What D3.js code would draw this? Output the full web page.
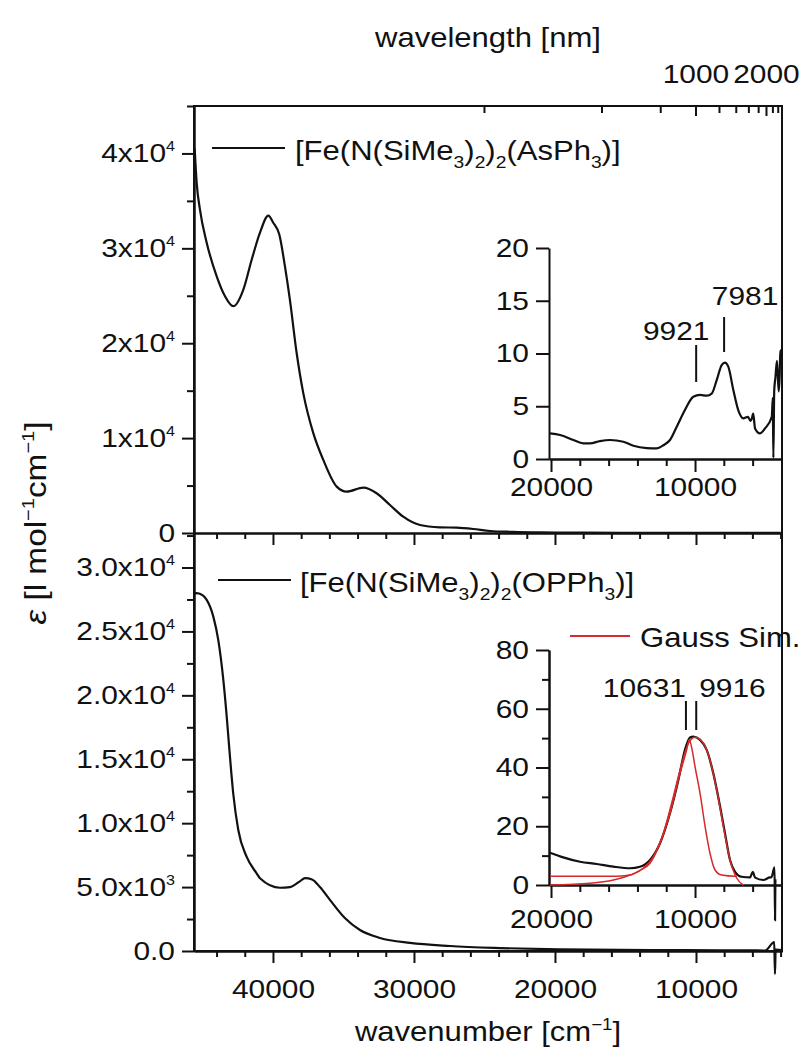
<!DOCTYPE html>
<html><head><meta charset="utf-8">
<script src="https://cdn.jsdelivr.net/npm/d3@7"></script>
<style>
body{margin:0;background:#fff}
svg{display:block}
text{font-family:"Liberation Sans",Arial,Helvetica,sans-serif;fill:#111}
</style>
</head><body>
<svg id="c" width="805" height="1057"></svg>
<script>
// ---------------- data ----------------
// main top panel: [Fe(N(SiMe3)2)2(AsPh3)]
const asWn  = [45550,45410,45180,44700,43990,43400,42815,42100,41510,40920,40330,39980,39550,39150,38800,38320,37850,37140,36430,35480,34770,33590,32650,31700,30760,29570,28160,26970,25800,24600,23000,21000,18000,14000,10000,8000,6000,4000];
const asEps = [40500,36900,34100,30600,27050,24950,23900,25650,28800,31650,33450,32700,31450,28100,24600,18970,14740,10520,7700,4890,4360,4780,4190,2950,1720,840,600,560,420,210,120,60,30,15,10,12,6,10];
// main bottom panel: [Fe(N(SiMe3)2)2(OPPh3)]
const opWn  = [45600,45410,44950,44700,44230,43880,43520,43280,43050,42820,42460,41870,41160,40920,39500,38800,38090,37730,37230,36670,35960,34900,33830,32410,30280,27450,23900,19650,13270,8300,5100,4450,4400,4350,3900];
const opEps = [27900,28000,27800,27470,26160,24340,21210,18340,15200,12340,9470,7380,6080,5690,4950,5000,5450,5700,5600,5000,4000,2580,1640,1020,630,390,230,120,70,60,40,700,-1800,100,80];
// inset 1 (NIR, AsPh3)
const nirAsWn  = [20070,19375,18450,17760,17300,16600,15900,14980,14280,13350,12660,12200,11740,11270,10700,10120,9650,9190,8840,8490,8150,7920,7690,7340,7000,6650,6320,6150,6060,5960,5830,5490,5140,4670,4600,4560,4500,4420,4310,4190,4120,4080,4030];
const nirAsEps = [2.43,2.27,1.80,1.48,1.48,1.70,1.80,1.64,1.26,1.04,1.01,1.30,1.80,3.06,4.64,5.9,6.07,6.0,6.2,7.5,8.9,9.13,8.75,6.54,4.64,3.86,4.0,3.6,3.8,4.3,2.9,2.43,2.9,4.0,5.8,0.1,6.5,7.7,9.3,6.4,8.0,10.3,10.0];
const nirAsPeaks = [9921, 7981];
// inset 2 (NIR, OPPh3) measured + Gauss simulation
const nirOpWn  = [20070,19150,17990,16830,15670,14510,13820,13125,12430,11740,11160,10700,10350,10120,9650,9190,8730,8260,7920,7570,7220,6760,6180,5990,5830,5260,4790,4700,4480,4444,4420];
const nirOpEps = [11.0,9.4,7.9,7.15,6.24,5.7,6.2,8.5,14.2,24.4,35.7,46,50.2,50.5,49.4,46,38,26.7,17.6,8.5,4.5,2.8,2.6,4.5,2.5,1.7,2.6,2.6,6.0,-12,2];
const simAWn  = [20070,15400,14400,13820,13125,12430,11740,11040,10580,10400,10200,10000,9650,9300,8960,8610,8150,7240,7100];
const simAEps = [3,3,3.5,5.0,7.4,14.2,24.4,38,46,49.5,46,40.3,31.2,19.9,10.8,5.1,3.4,3.0,3.0];
const simBWn  = [20070,17290,15670,14510,13590,12900,12200,11510,10920,10460,10000,9420,8960,8490,8030,7570,7100,6650];
const simBEps = [0,0.6,1.7,3.4,5.7,9.6,17.6,30,41.4,48.2,50.3,48.2,42.5,32.3,19.9,8.5,2.3,0];
const nirOpPeaks = [10631, 9916];
// ticks
const xMajor = [40000,30000,20000,10000];
const xMinor = [44000,42000,38000,36000,34000,32000,28000,26000,24000,22000,18000,16000,14000,12000,8000,6000,4000];
const wlTicks = [400,600,800,1000,1200,1400,1600,1800,2000,2200,2400];
const wlLabels = [1000,2000];
const topYTicks = [0,10000,20000,30000,40000];
const topYLabels = ["0","1x10^4","2x10^4","3x10^4","4x10^4"];
const topYMinor = [5000,15000,25000,35000,45000];
const botYTicks = [0,5000,10000,15000,20000,25000,30000];
const botYLabels = ["0.0","5.0x10^3","1.0x10^4","1.5x10^4","2.0x10^4","2.5x10^4","3.0x10^4"];
const botYMinor = [2500,7500,12500,17500,22500,27500,32500];
const in1YTicks = [0,5,10,15,20];
const in2YTicks = [0,20,40,60,80];
const in2YMinor = [10,30,50,70];
const inXMajor = [20000,10000];
const inXMinor = [18000,16000,14000,12000,8000,6000];

// ---------------- layout ----------------
const STRETCH = 1.15;
const svg = d3.select('#c');
const L = 194, R = 782, T = 106, M = 533, B = 951;
const x = d3.scaleLinear().domain([45600, 3900]).range([L, R]);
const yTop = d3.scaleLinear().domain([0, 45000]).range([M, T]);
const yBot = d3.scaleLinear().domain([0, 32700]).range([B, M]);
const IL = 549, IR = 781;
const xi = d3.scaleLinear().domain([20140, 4030]).range([IL, IR]);
const yi1 = d3.scaleLinear().domain([0, 20]).range([459, 248]);
const yi2 = d3.scaleLinear().domain([0, 80]).range([885, 650]);

const TICKFS = 26;
const LEGFS = 27;

function styleAxis(g, fs) {
  g.selectAll('.domain').attr('stroke', '#111').attr('stroke-width', 2);
  g.selectAll('.tick line').attr('stroke', '#111').attr('stroke-width', 2);
  g.selectAll('text').attr('font-size', fs).attr('font-family', null).attr('fill', '#111');
}
function sciLabels(g, labels) {
  g.selectAll('.tick text').each(function(d, i) {
    const el = d3.select(this);
    const parts = labels[i].split('^');
    el.text(null);
    el.append('tspan').text(parts[0]);
    if (parts[1]) el.append('tspan').attr('font-size', 14).attr('dy', -11).text(parts[1]);
  });
}
function rich(sel, parts, fs) {
  let shift = 0;
  parts.forEach(([s, k]) => {
    const t = sel.append('tspan').text(s);
    let target = 0;
    if (k === 'sub') { target = 0.3 * fs; t.attr('font-size', 0.62 * fs); }
    else if (k === 'sup') { target = -0.42 * fs; t.attr('font-size', 0.6 * fs); }
    if (k === 'it') t.attr('font-style', 'italic');
    const dy = target - shift;
    if (dy) t.attr('dy', dy.toFixed(2));
    shift = target;
  });
}
const line = (xs, ys) => d3.line().x(d => xs(d[0])).y(d => ys(d[1])).curve(d3.curveMonotoneX);
const zip = (a, b) => a.map((v, i) => [v, b[i]]);

// ---------------- main frame & axes ----------------
let g = svg.append('g').attr('transform', `translate(${L},0)`)
  .call(d3.axisLeft(yTop).tickValues(topYTicks).tickSize(12).tickSizeOuter(0).tickPadding(7));
styleAxis(g, TICKFS); sciLabels(g, topYLabels);
g = svg.append('g').attr('transform', `translate(${L},0)`)
  .call(d3.axisLeft(yTop).tickValues(topYMinor).tickSize(7).tickSizeOuter(0).tickFormat(''));
styleAxis(g, TICKFS);
g = svg.append('g').attr('transform', `translate(${L},0)`)
  .call(d3.axisLeft(yBot).tickValues(botYTicks).tickSize(12).tickSizeOuter(0).tickPadding(7));
styleAxis(g, TICKFS); sciLabels(g, botYLabels);
g = svg.append('g').attr('transform', `translate(${L},0)`)
  .call(d3.axisLeft(yBot).tickValues(botYMinor).tickSize(7).tickSizeOuter(0).tickFormat(''));
styleAxis(g, TICKFS);
g = svg.append('g').attr('transform', `translate(0,${M})`)
  .call(d3.axisBottom(x).tickValues(xMajor).tickSize(12).tickSizeOuter(0).tickFormat(''));
styleAxis(g, TICKFS);
g = svg.append('g').attr('transform', `translate(0,${M})`)
  .call(d3.axisBottom(x).tickValues(xMinor).tickSize(6).tickSizeOuter(0).tickFormat(''));
styleAxis(g, TICKFS);
g = svg.append('g').attr('transform', `translate(0,${B})`)
  .call(d3.axisBottom(x).tickValues(xMajor).tickSize(12).tickSizeOuter(0).tickPadding(17).tickFormat(d3.format('d')));
styleAxis(g, TICKFS);
g = svg.append('g').attr('transform', `translate(0,${B})`)
  .call(d3.axisBottom(x).tickValues(xMinor).tickSize(6).tickSizeOuter(0).tickFormat(''));
styleAxis(g, TICKFS);
svg.append('rect').attr('x', L).attr('y', T).attr('width', R - L).attr('height', B - T)
  .attr('fill', 'none').attr('stroke', '#111').attr('stroke-width', 2);
svg.append('g').selectAll('line').data(wlTicks).join('line')
  .attr('x1', d => x(1e7 / d)).attr('x2', d => x(1e7 / d))
  .attr('y1', T).attr('y2', d => T + (wlLabels.includes(d) ? 10 : 7))
  .attr('stroke', '#111').attr('stroke-width', 2);
svg.append('g').selectAll('text').data(wlLabels).join('text')
  .attr('x', d => x(1e7 / d)).attr('y', 83).attr('text-anchor', 'middle')
  .attr('font-size', TICKFS).text(d => d);
svg.append('text').attr('x', (L + R) / 2).attr('y', 47).attr('text-anchor', 'middle')
  .attr('font-size', 27).text('wavelength [nm]');
const xt = svg.append('text').attr('x', (L + R) / 2).attr('y', 1041).attr('text-anchor', 'middle').attr('font-size', 27);
rich(xt, [['wavenumber [cm', 'n'], ['\u22121', 'sup'], [']', 'n']], 27);
const yt = svg.append('text').attr('transform', 'translate(46,523) rotate(-90)').attr('text-anchor', 'middle').attr('font-size', 29);
rich(yt, [['\u03b5', 'it'], ['  [l mol', 'n'], ['\u22121', 'sup'], ['cm', 'n'], ['\u22121', 'sup'], [']', 'n']], 29);

// ---------------- main curves ----------------
svg.append('path').datum(zip(asWn, asEps)).attr('d', line(x, yTop))
  .attr('fill', 'none').attr('stroke', '#111').attr('stroke-width', 2.2);
svg.append('path').datum(zip(opWn, opEps)).attr('d', line(x, yBot))
  .attr('fill', 'none').attr('stroke', '#111').attr('stroke-width', 2.2);

// legends
svg.append('line').attr('x1', 212).attr('x2', 285).attr('y1', 148).attr('y2', 148).attr('stroke', '#111').attr('stroke-width', 2);
const l1 = svg.append('text').attr('x', 295).attr('y', 160).attr('font-size', LEGFS);
rich(l1, [['[Fe(N(SiMe', 'n'], ['3', 'sub'], [')', 'n'], ['2', 'sub'], [')', 'n'], ['2', 'sub'], ['(AsPh', 'n'], ['3', 'sub'], [')]', 'n']], LEGFS);
svg.append('line').attr('x1', 218).attr('x2', 291).attr('y1', 580).attr('y2', 580).attr('stroke', '#111').attr('stroke-width', 2);
const l2 = svg.append('text').attr('x', 300).attr('y', 592).attr('font-size', LEGFS);
rich(l2, [['[Fe(N(SiMe', 'n'], ['3', 'sub'], [')', 'n'], ['2', 'sub'], [')', 'n'], ['2', 'sub'], ['(OPPh', 'n'], ['3', 'sub'], [')]', 'n']], LEGFS);

// ---------------- inset 1 ----------------
g = svg.append('g').attr('transform', `translate(${IL},0)`)
  .call(d3.axisLeft(yi1).tickValues(in1YTicks).tickSize(13).tickSizeOuter(0).tickPadding(7));
styleAxis(g, TICKFS);
g = svg.append('g').attr('transform', `translate(0,${yi1(0)})`)
  .call(d3.axisBottom(xi).tickValues(inXMajor).tickSize(13).tickSizeOuter(0).tickPadding(6).tickFormat(d3.format('d')));
styleAxis(g, TICKFS);
g = svg.append('g').attr('transform', `translate(0,${yi1(0)})`)
  .call(d3.axisBottom(xi).tickValues(inXMinor).tickSize(7).tickSizeOuter(0).tickFormat(''));
styleAxis(g, TICKFS);
svg.append('path').datum(zip(nirAsWn, nirAsEps)).attr('d', line(xi, yi1))
  .attr('fill', 'none').attr('stroke', '#111').attr('stroke-width', 2.2);
const ann1Y = [[345, 382, 340], [317, 352, 305]];
nirAsPeaks.forEach((p, i) => {
  svg.append('line').attr('x1', xi(p)).attr('x2', xi(p)).attr('y1', ann1Y[i][0]).attr('y2', ann1Y[i][1])
    .attr('stroke', '#111').attr('stroke-width', 2);
  svg.append('text').attr('x', xi(p) + (i === 0 ? -20 : 21)).attr('y', ann1Y[i][2]).attr('text-anchor', 'middle')
    .attr('font-size', TICKFS).text(p);
});

// ---------------- inset 2 ----------------
g = svg.append('g').attr('transform', `translate(${IL},0)`)
  .call(d3.axisLeft(yi2).tickValues(in2YTicks).tickSize(13).tickSizeOuter(0).tickPadding(7));
styleAxis(g, TICKFS);
g = svg.append('g').attr('transform', `translate(${IL},0)`)
  .call(d3.axisLeft(yi2).tickValues(in2YMinor).tickSize(7).tickSizeOuter(0).tickFormat(''));
styleAxis(g, TICKFS);
g = svg.append('g').attr('transform', `translate(0,${yi2(0)})`)
  .call(d3.axisBottom(xi).tickValues(inXMajor).tickSize(13).tickSizeOuter(0).tickPadding(12).tickFormat(d3.format('d')));
styleAxis(g, TICKFS);
g = svg.append('g').attr('transform', `translate(0,${yi2(0)})`)
  .call(d3.axisBottom(xi).tickValues(inXMinor).tickSize(7).tickSizeOuter(0).tickFormat(''));
styleAxis(g, TICKFS);
const RED = '#d42a2a';
svg.append('path').datum(zip(nirOpWn, nirOpEps)).attr('d', line(xi, yi2))
  .attr('fill', 'none').attr('stroke', '#111').attr('stroke-width', 2.2);
svg.append('path').datum(zip(simBWn, simBEps)).attr('d', line(xi, yi2))
  .attr('fill', 'none').attr('stroke', RED).attr('stroke-width', 1.5);
svg.append('path').datum(zip(simAWn, simAEps)).attr('d', line(xi, yi2))
  .attr('fill', 'none').attr('stroke', RED).attr('stroke-width', 1.5);
nirOpPeaks.forEach((p, i) => {
  svg.append('line').attr('x1', xi(p)).attr('x2', xi(p)).attr('y1', 701).attr('y2', 730)
    .attr('stroke', '#111').attr('stroke-width', 2);
  svg.append('text').attr('x', xi(p) + (i === 0 ? 0 : 3)).attr('y', 697).attr('text-anchor', i === 0 ? 'end' : 'start')
    .attr('font-size', TICKFS).text(p);
});
svg.append('line').attr('x1', 570).attr('x2', 630).attr('y1', 636).attr('y2', 636).attr('stroke', RED).attr('stroke-width', 2);
svg.append('text').attr('x', 640).attr('y', 647).attr('font-size', LEGFS).text('Gauss Sim.');

// ---------------- horizontal stretch of all text ----------------
svg.selectAll('text').each(function() {
  const t = d3.select(this);
  const ax = +t.attr('x') || 0, ay = +t.attr('y') || 0;
  const tr = t.attr('transform') || '';
  t.attr('transform', `${tr} translate(${ax},${ay}) scale(${STRETCH},1) translate(${-ax},${-ay})`);
});
</script>
</body></html>
